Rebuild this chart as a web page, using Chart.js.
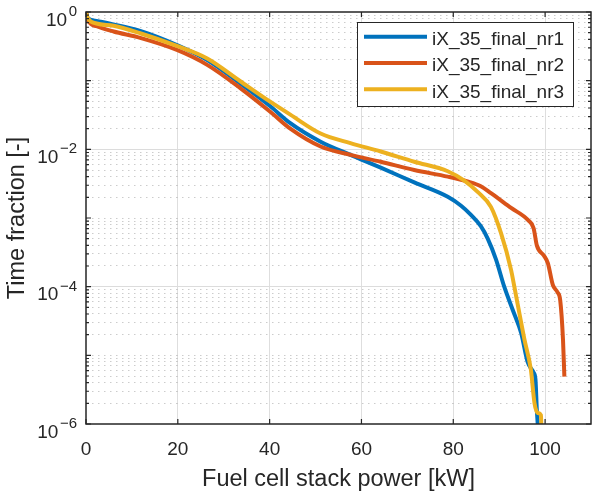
<!DOCTYPE html>
<html>
<head>
<meta charset="utf-8">
<script src="https://cdn.jsdelivr.net/npm/chart.js@4/dist/chart.umd.min.js"></script>
<style>
  html, body { margin: 0; padding: 0; background: #fff; }
  canvas { display: block; }
</style>
</head>
<body>
<canvas id="chart" width="592" height="495"></canvas>
<script>
// series names
var seriesNames = ['iX_35_final_nr1', 'iX_35_final_nr2', 'iX_35_final_nr3'];

// nr1 (power kW / time fraction)
var powerNr1 = [0, 0.4, 2.3, 6, 11.8, 19.8, 26.4, 33.6, 40.2, 44.5, 51.1, 57.6, 60, 64.2, 71.5, 78.8, 81.7, 83.8, 86, 87.5, 89.3, 91.1, 93, 94.8, 96.2, 97.5, 97.9, 98.2, 98.5];
var fracNr1 = [1, 0.81, 0.74, 0.66, 0.53, 0.33, 0.20, 0.091, 0.042, 0.024, 0.0129, 0.0083, 0.0071, 0.0054, 0.0033, 0.00204, 0.00151, 0.00112, 0.00076, 0.0005, 0.00025, 1e-4, 4.5e-5, 2.1e-5, 8e-6, 5.6e-6, 4.5e-6, 1.6e-6, 8e-7];

// nr2
var powerNr2 = [0, 0.4, 2.3, 6, 11.8, 19.8, 26.4, 33.6, 40.2, 44.5, 51.1, 57.6, 64.2, 71.5, 78.8, 83.1, 86, 88.2, 92.6, 96.3, 97.5, 98.2, 99.8, 100.6, 101.7, 102.7, 103.3, 103.9, 104.2];
var fracNr2 = [1, 0.76, 0.62, 0.52, 0.42, 0.28, 0.17, 0.078, 0.035, 0.020, 0.011, 0.0083, 0.0066, 0.0050, 0.0040, 0.0034, 0.0029, 0.0023, 0.0014, 9.3e-4, 7.1e-4, 4.0e-4, 2.8e-4, 2.2e-4, 1.05e-4, 8.3e-5, 6.3e-5, 1.7e-5, 4.9e-6];

// nr3
var powerNr3 = [0, 0.4, 2.3, 6, 11.8, 19.8, 26.4, 33.6, 40.2, 44.5, 51.1, 57.6, 64.2, 71.5, 78.8, 82.4, 85.3, 88.2, 90.4, 92.6, 93.3, 95.5, 96.9, 97.7, 98.4, 99.1, 99.2];
var fracNr3 = [1, 0.81, 0.68, 0.63, 0.49, 0.32, 0.21, 0.098, 0.049, 0.032, 0.017, 0.0123, 0.0093, 0.0066, 0.0048, 0.0035, 0.0024, 0.00145, 6e-4, 1.74e-4, 1e-4, 1.7e-5, 6.2e-6, 2e-6, 1.45e-6, 1.35e-6, 8e-7];

var xTicks = [0, 20, 40, 60, 80, 100];
var yLabelExps = [0, -2, -4, -6];

var colors = ['#0072BD', '#D95319', '#EDB120'];
var axisColor = '#262626';
var fontFam = '"Liberation Sans", Arial, Helvetica, sans-serif';

function makeSet(i, xs, ys) {
  return {
    label: seriesNames[i],
    data: xs.map(function(x, j) { return { x: x, y: ys[j] }; }),
    borderColor: colors[i],
    backgroundColor: colors[i],
    borderWidth: 4,
    pointRadius: 0,
    cubicInterpolationMode: 'monotone',
    order: 3 - i
  };
}

function isMajorY(v) {
  var e = Math.log10(v);
  var r = Math.round(e);
  return Math.abs(e - r) < 1e-9 && r % 2 === 0;
}

// box, inward ticks, 10^n labels, legend
var matlabLook = {
  id: 'matlabLook',
  afterDraw: function(chart) {
    var ctx = chart.ctx, a = chart.chartArea;
    var xs = chart.scales.x, ys = chart.scales.y;
    ctx.save();
    ctx.strokeStyle = axisColor;
    ctx.lineWidth = 1.5;
    ctx.strokeRect(a.left, a.top, a.right - a.left, a.bottom - a.top);

    ctx.lineWidth = 1.2;
    ctx.beginPath();
    xTicks.forEach(function(v) {
      var px = xs.getPixelForValue(v);
      ctx.moveTo(px, a.bottom); ctx.lineTo(px, a.bottom - 5);
      ctx.moveTo(px, a.top); ctx.lineTo(px, a.top + 5);
    });
    ys.ticks.forEach(function(t) {
      var py = ys.getPixelForValue(t.value);
      var e = Math.log10(t.value);
      var len = Math.abs(e - Math.round(e)) < 1e-9 ? 5 : 3;
      ctx.moveTo(a.left, py); ctx.lineTo(a.left + len, py);
      ctx.moveTo(a.right, py); ctx.lineTo(a.right - len, py);
    });
    ctx.stroke();

    ctx.fillStyle = axisColor;
    ctx.textAlign = 'right';
    ctx.textBaseline = 'alphabetic';
    yLabelExps.forEach(function(e) {
      var py = ys.getPixelForValue(Math.pow(10, e));
      var ex = e === 0 ? '0' : '\u2212' + (-e);
      ctx.font = '15px ' + fontFam;
      ctx.fillText(ex, a.left - 9, py + 4);
      var w = ctx.measureText(ex).width;
      ctx.font = '19px ' + fontFam;
      ctx.fillText('10', a.left - 9 - w - 1.5, py + 13.5);
    });

    // legend
    var bx = a.right - 234, by = a.top + 10, bw = 216, bh = 84;
    ctx.fillStyle = '#fff';
    ctx.fillRect(bx, by, bw, bh);
    ctx.strokeStyle = axisColor;
    ctx.lineWidth = 1;
    ctx.strokeRect(bx + 0.5, by + 0.5, bw, bh);
    ctx.font = '19px ' + fontFam;
    ctx.textAlign = 'left';
    chart.data.datasets.forEach(function(d, i) {
      var ry = by + 14.7 + i * 26.3;
      ctx.strokeStyle = d.borderColor;
      ctx.lineWidth = 4;
      ctx.beginPath();
      ctx.moveTo(bx + 7, ry); ctx.lineTo(bx + 70, ry);
      ctx.stroke();
      ctx.fillStyle = axisColor;
      ctx.fillText(d.label, bx + 75, ry + 8.3);
    });
    ctx.restore();
  }
};

new Chart(document.getElementById('chart'), {
  type: 'line',
  data: {
    datasets: [
      makeSet(0, powerNr1, fracNr1),
      makeSet(1, powerNr2, fracNr2),
      makeSet(2, powerNr3, fracNr3)
    ]
  },
  options: {
    responsive: false,
    animation: false,
    layout: { padding: { left: 0, right: 1, top: 12, bottom: 0 } },
    plugins: { legend: { display: false }, tooltip: { enabled: false } },
    scales: {
      x: {
        type: 'linear',
        min: 0,
        max: 110,
        afterBuildTicks: function(s) { s.ticks = xTicks.map(function(v) { return { value: v }; }); },
        afterFit: function(s) { s.height = 71; },
        grid: {
          color: function(c) { return c.tick && c.tick.value > 0 ? '#dedede' : 'rgba(0,0,0,0)'; },
          lineWidth: 1,
          drawTicks: false
        },
        border: { display: false },
        ticks: {
          padding: 14,
          maxRotation: 0,
          color: axisColor,
          font: { family: fontFam, size: 19 }
        },
        title: {
          display: true,
          text: 'Fuel cell stack power [kW]',
          color: axisColor,
          padding: { top: 0, bottom: 1 },
          font: { family: fontFam, size: 23.5 }
        }
      },
      y: {
        type: 'logarithmic',
        min: 1e-6,
        max: 1,
        afterBuildTicks: function(s) {
          var t = [];
          for (var e = -6; e < 0; e++) {
            for (var k = 1; k <= 9; k++) t.push({ value: k * Math.pow(10, e) });
          }
          t.push({ value: 1 });
          s.ticks = t;
        },
        afterFit: function(s) { s.width = 86; },
        grid: {
          color: function(c) {
            if (!c.tick) return 'rgba(0,0,0,0)';
            var v = c.tick.value;
            if (v <= 1e-6 * 1.0001 || v >= 0.9999) return 'rgba(0,0,0,0)';
            return isMajorY(v) ? '#dcdcdc' : 'rgba(0,0,0,0.2)';
          },
          lineWidth: 1,
          drawTicks: false
        },
        border: {
          display: false,
          dash: function(c) {
            if (!c.tick) return [];
            return isMajorY(c.tick.value) ? [] : [1.5, 4.5];
          }
        },
        ticks: { display: false },
        title: {
          display: true,
          text: 'Time fraction [-]',
          color: axisColor,
          padding: { top: 3, bottom: 0 },
          font: { family: fontFam, size: 23.5 }
        }
      }
    }
  },
  plugins: [matlabLook]
});
</script>
</body>
</html>
